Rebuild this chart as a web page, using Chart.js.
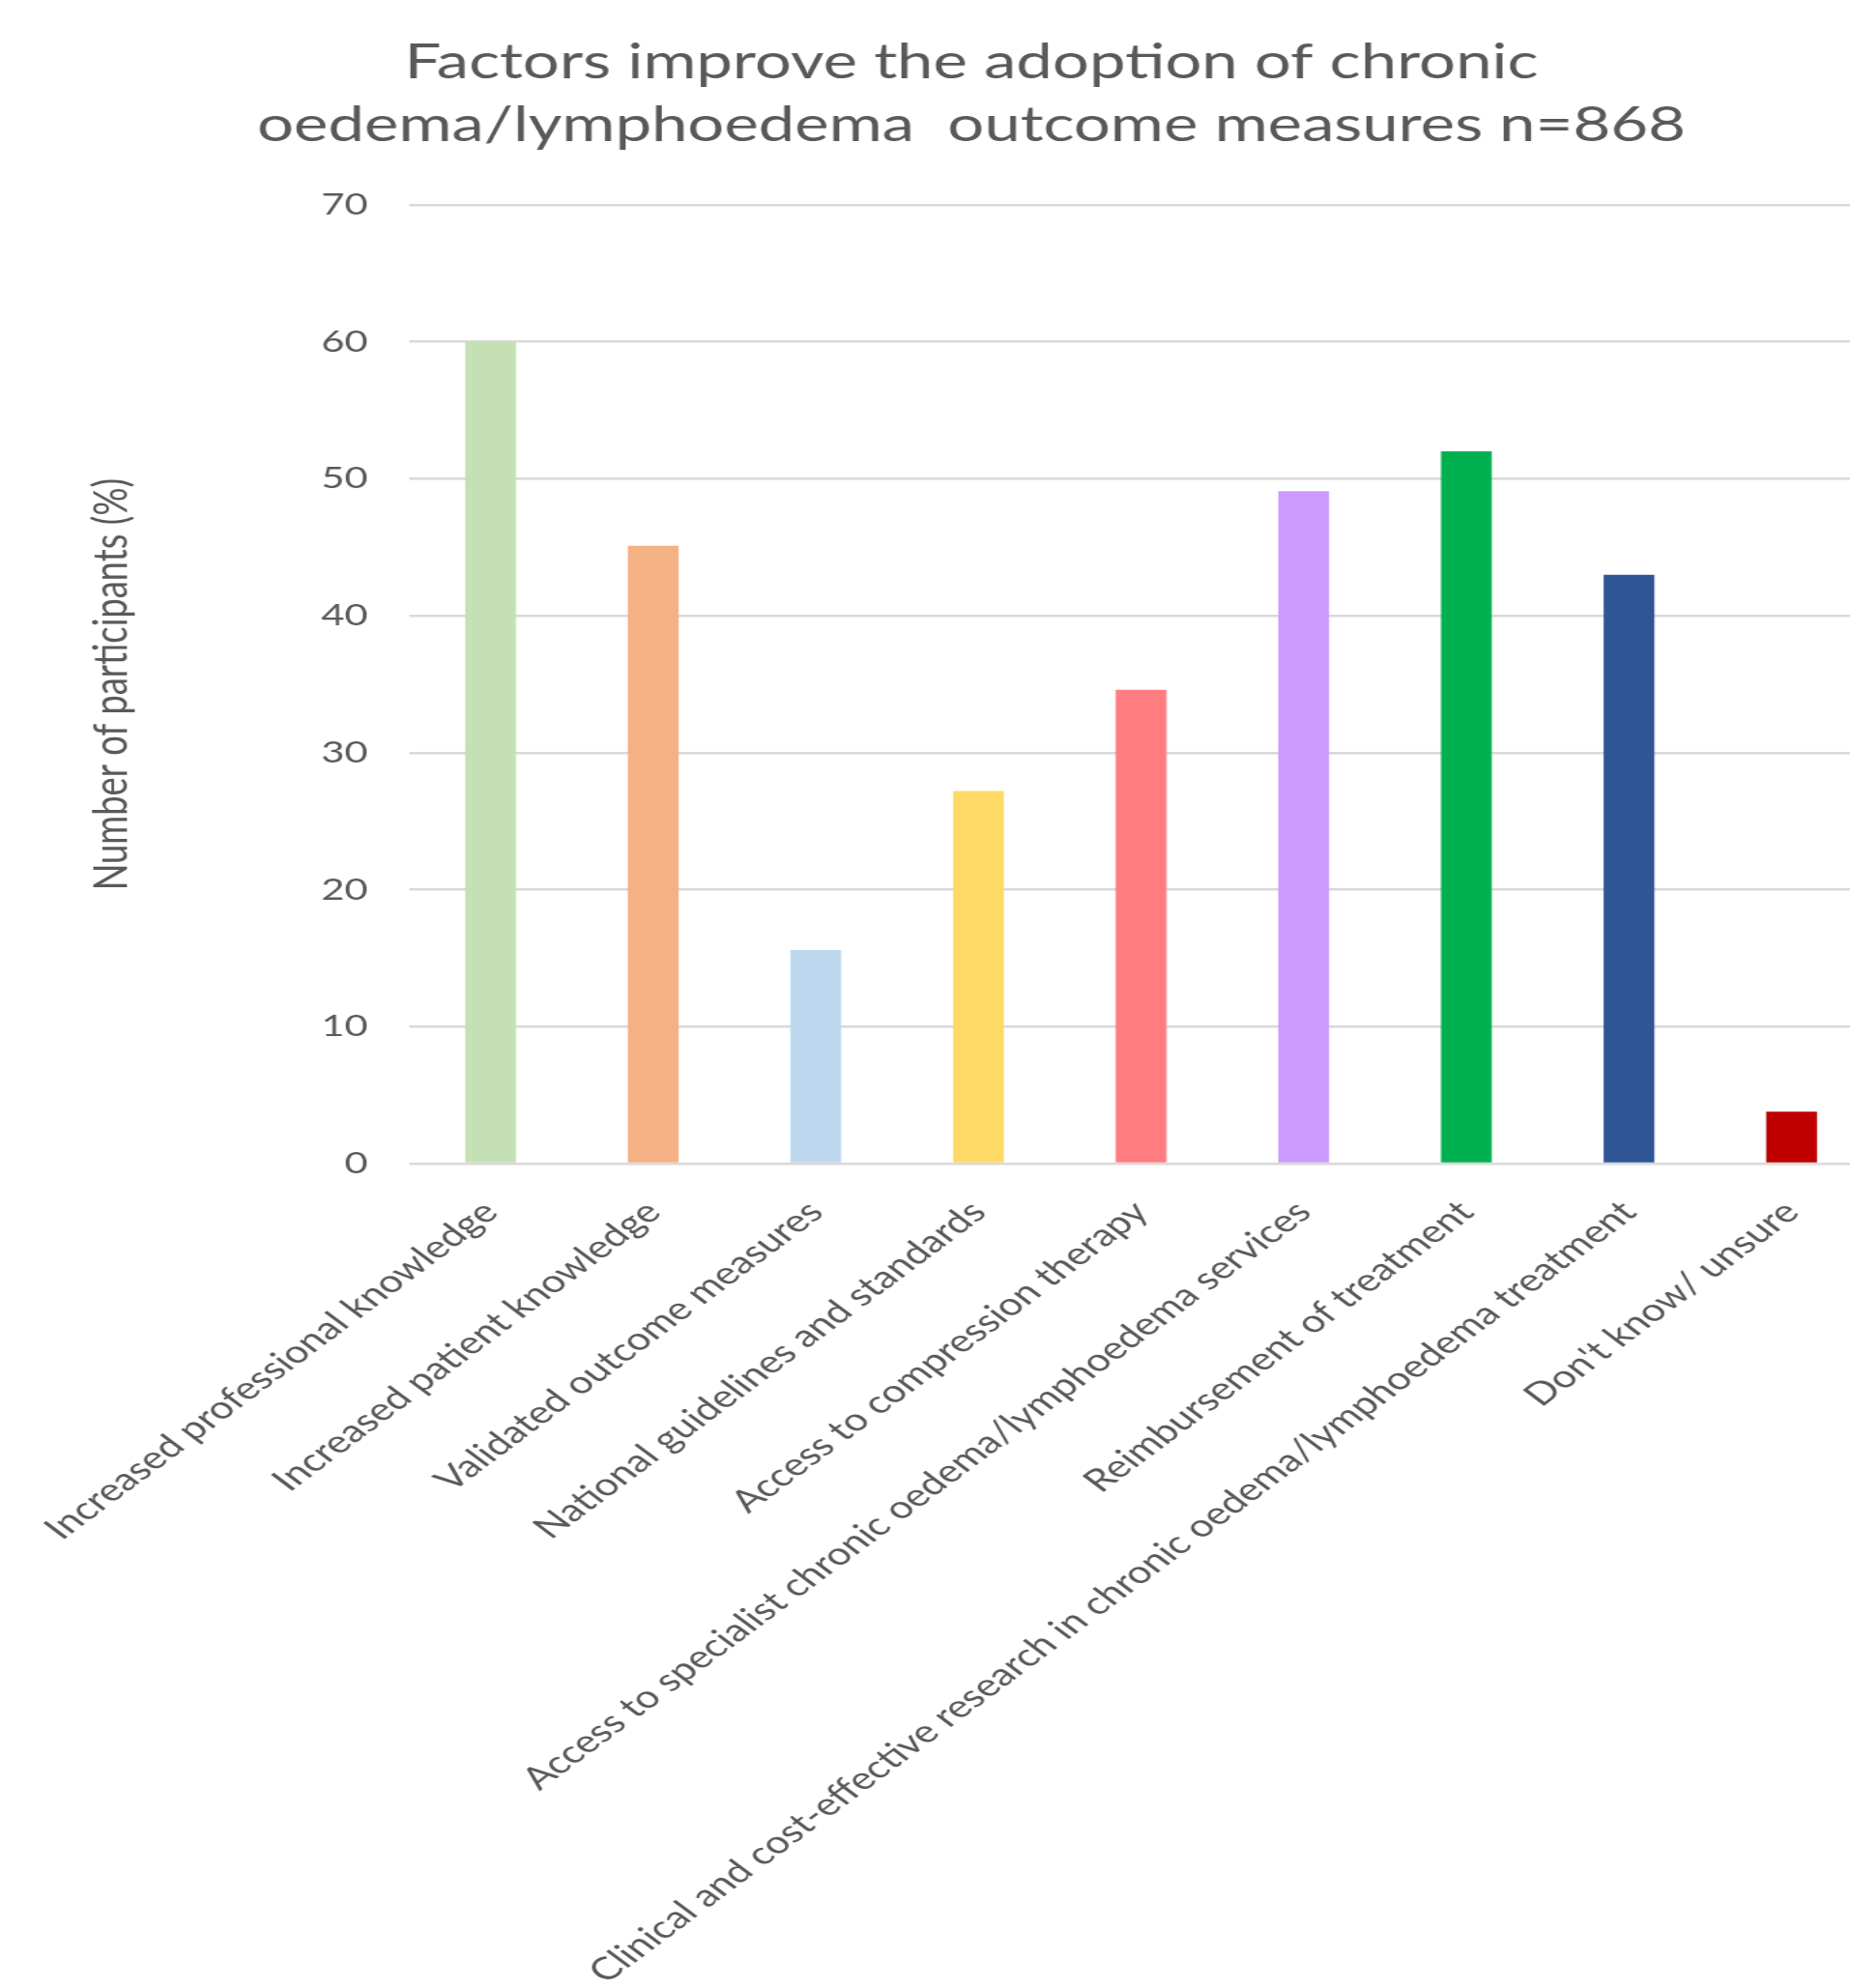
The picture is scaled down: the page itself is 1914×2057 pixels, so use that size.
<!DOCTYPE html>
<html>
<head>
<meta charset="utf-8">
<script src="https://cdn.jsdelivr.net/npm/chart.js@4.4.1/dist/chart.umd.min.js"></script>
<style>
  html, body { margin: 0; padding: 0; background: #ffffff; overflow: hidden; width: 1914px; height: 2057px; }
  #wrap { position: absolute; left: 0; top: 0; width: 1446px; height: 2057px; transform: scaleX(1.34); transform-origin: 0 0; }
  canvas { display: block; }
</style>
</head>
<body>
<div id="wrap"><canvas id="c" width="1446" height="2057"></canvas></div>
<script>
// ---- data ----
const categories = [
  "Increased professional knowledge",
  "Increased patient knowledge",
  "Validated outcome measures",
  "National guidelines and standards",
  "Access to compression therapy",
  "Access to specialist chronic oedema/lymphoedema services",
  "Reimbursement of treatment",
  "Clinical and cost-effective research in chronic oedema/lymphoedema treatment",
  "Don't know/ unsure"
];
const values = [60, 45.1, 15.6, 27.2, 34.6, 49.1, 52, 43, 3.8];
const barColors = ["#C5E0B4", "#F4B183", "#BDD7EE", "#FFD966", "#FF7C80", "#CC99FF", "#00B050", "#2F5597", "#C00000"];
const titleLines = ["Factors improve the adoption of chronic", "oedema/lymphoedema  outcome measures n=868"];
const yAxisTitle = "Number of participants (%)";
const yMin = 0, yMax = 70, yStep = 10;

// ---- layout constants ----
const TEXT = "#595959";
const FONT = "Lato, 'Open Sans', sans-serif";
const Y_AXIS_WIDTH = 316;
const X_AXIS_HEIGHT = 853;
const TITLE_CENTER = 750;

const titleShift = {
  id: 'titleShift',
  afterLayout(chart) {
    const t = chart.titleBlock;
    if (t) { t.left = 0; t.right = TITLE_CENTER * 2; t.width = t.right - t.left; }
  }
};

new Chart(document.getElementById('c'), {
  type: 'bar',
  data: {
    labels: categories,
    datasets: [{
      data: values,
      backgroundColor: barColors,
      borderWidth: 0,
      barPercentage: 0.312,
      categoryPercentage: 1.0
    }]
  },
  plugins: [titleShift],
  options: {
    responsive: false,
    animation: false,
    events: [],
    layout: { padding: 0 },
    plugins: {
      legend: { display: false },
      tooltip: { enabled: false },
      title: {
        display: true,
        text: titleLines,
        color: TEXT,
        font: { family: FONT, size: 50, weight: 'normal', lineHeight: 1.286 },
        padding: { top: 33, bottom: 50.4 }
      }
    },
    scales: {
      x: {
        grid: { display: false, drawTicks: false },
        border: { display: false },
        ticks: {
          color: TEXT,
          font: { family: FONT, size: 32.4 },
          minRotation: 45,
          maxRotation: 45,
          autoSkip: false,
          padding: 31
        },
        afterFit(scale) {
          scale.height = X_AXIS_HEIGHT;
          scale.paddingLeft = 0;
          scale.paddingRight = 0;
        }
      },
      y: {
        min: yMin,
        max: yMax,
        grid: { color: "#D9D9D9", lineWidth: 2.5, drawTicks: false },
        border: { display: false },
        ticks: {
          stepSize: yStep,
          color: TEXT,
          font: { family: FONT, size: 31 },
          padding: 32
        },
        title: {
          display: true,
          text: yAxisTitle,
          color: TEXT,
          font: { family: FONT, size: 36.3 },
          padding: { top: 64.5, bottom: 0 }
        },
        afterFit(scale) {
          scale.width = Y_AXIS_WIDTH;
          scale.paddingTop = 0;
          scale.paddingBottom = 0;
        }
      }
    }
  }
});
</script>
</body>
</html>
